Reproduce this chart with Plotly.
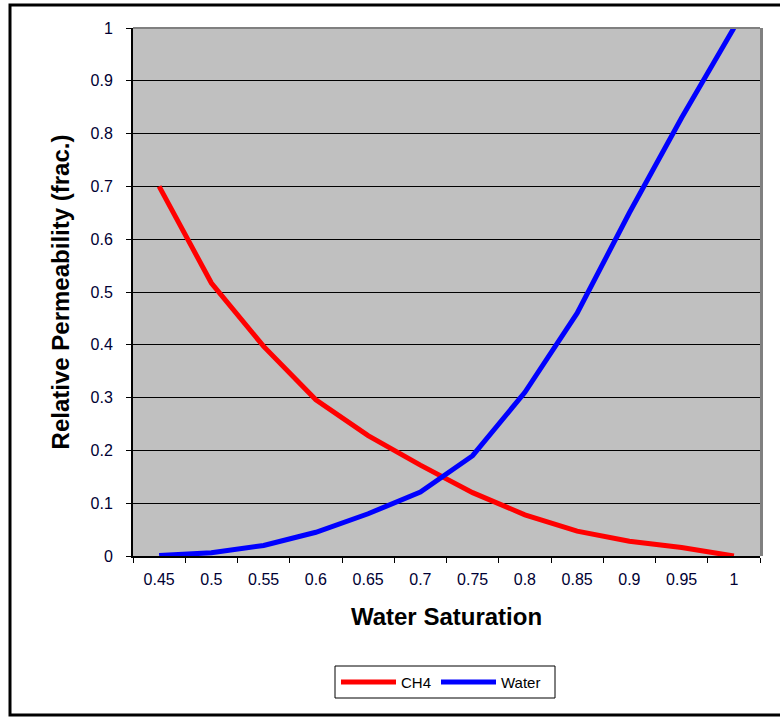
import plotly.graph_objects as go

# Relative permeability curves versus water saturation
saturation = ["0.45", "0.5", "0.55", "0.6", "0.65", "0.7",
              "0.75", "0.8", "0.85", "0.9", "0.95", "1"]
kr_ch4 = [0.70, 0.517, 0.397, 0.296, 0.228, 0.172,
          0.120, 0.078, 0.047, 0.028, 0.016, 0.0]
kr_water = [0.001, 0.006, 0.020, 0.045, 0.080, 0.121,
            0.190, 0.310, 0.460, 0.650, 0.830, 1.0]
y_ticks = [0, 0.1, 0.2, 0.3, 0.4, 0.5, 0.6, 0.7, 0.8, 0.9, 1]

series = [("CH4", kr_ch4, "#FF0000"), ("Water", kr_water, "#0000FF")]

W, H = 780, 717
L, R, T, B = 133, 20, 28, 161
pw, ph = W - L - R, H - T - B


def px(x):
    return (x - L) / pw


def py(y):
    return (H - B - y) / ph


FONT = "Liberation Sans, Arial"

fig = go.Figure()
for name, vals, color in series:
    fig.add_trace(go.Scatter(x=saturation, y=vals, name=name, mode="lines",
                             line=dict(color=color, width=5),
                             showlegend=False))

tick_font = dict(family=FONT, size=16, color="#000033")

shapes = [
    # plot-area frame on the top and right edges
    dict(type="line", xref="paper", yref="paper", x0=0, x1=1, y0=1, y1=1,
         line=dict(color="#808080", width=2), layer="above"),
    dict(type="line", xref="paper", yref="paper", x0=px(761.5), x1=px(761.5),
         y0=0, y1=1, line=dict(color="#808080", width=3), layer="above"),
    # outer chart border
    dict(type="rect", xref="paper", yref="paper",
         x0=px(10), x1=px(792), y0=py(5), y1=py(715),
         line=dict(color="black", width=3), layer="above"),
    # legend box
    dict(type="rect", xref="paper", yref="paper",
         x0=px(335), x1=px(555), y0=py(666), y1=py(698),
         line=dict(color="black", width=1), fillcolor="white", layer="above"),
]
annotations = []

# legend entries: line sample followed by the series name
legend_x = [(341, 396, 399), (441, 496, 499)]
for (name, _, color), (x0, x1, xt) in zip(series, legend_x):
    shapes.append(dict(type="line", xref="paper", yref="paper",
                       x0=px(x0), x1=px(x1), y0=py(682), y1=py(682),
                       line=dict(color=color, width=5), layer="above"))
    annotations.append(dict(xref="paper", yref="paper", x=px(xt), y=py(682),
                            xanchor="left", yanchor="middle", showarrow=False,
                            text=name, font=dict(family=FONT, size=15,
                                                 color="black")))

fig.update_layout(
    width=W, height=H,
    margin=dict(l=L, r=R, t=T, b=B, pad=0),
    paper_bgcolor="white",
    plot_bgcolor="#C0C0C0",
    showlegend=False,
    xaxis=dict(type="category", range=[-0.5, 11.5],
               tickson="boundaries", ticks="outside", ticklen=5,
               tickcolor="black", tickwidth=1,
               showline=True, linecolor="black", linewidth=2,
               showgrid=False, zeroline=False,
               tickfont=tick_font, ticklabelstandoff=8,
               title=dict(text="<b>Water Saturation</b>",
                          font=dict(family=FONT, size=24, color="black"),
                          standoff=21)),
    yaxis=dict(range=[0, 1], tickvals=y_ticks,
               ticktext=[f"{v:g}" for v in y_ticks],
               ticks="outside", ticklen=5, tickcolor="black", tickwidth=1,
               showline=True, linecolor="black", linewidth=2,
               showgrid=True, gridcolor="black", gridwidth=1,
               zeroline=False, tickfont=tick_font, ticklabelstandoff=10,
               title=dict(text="<b>Relative Permeability (frac.)</b>",
                          font=dict(family=FONT, size=24, color="black"),
                          standoff=14)),
    shapes=shapes,
    annotations=annotations,
)

fig.write_html("out.html")
